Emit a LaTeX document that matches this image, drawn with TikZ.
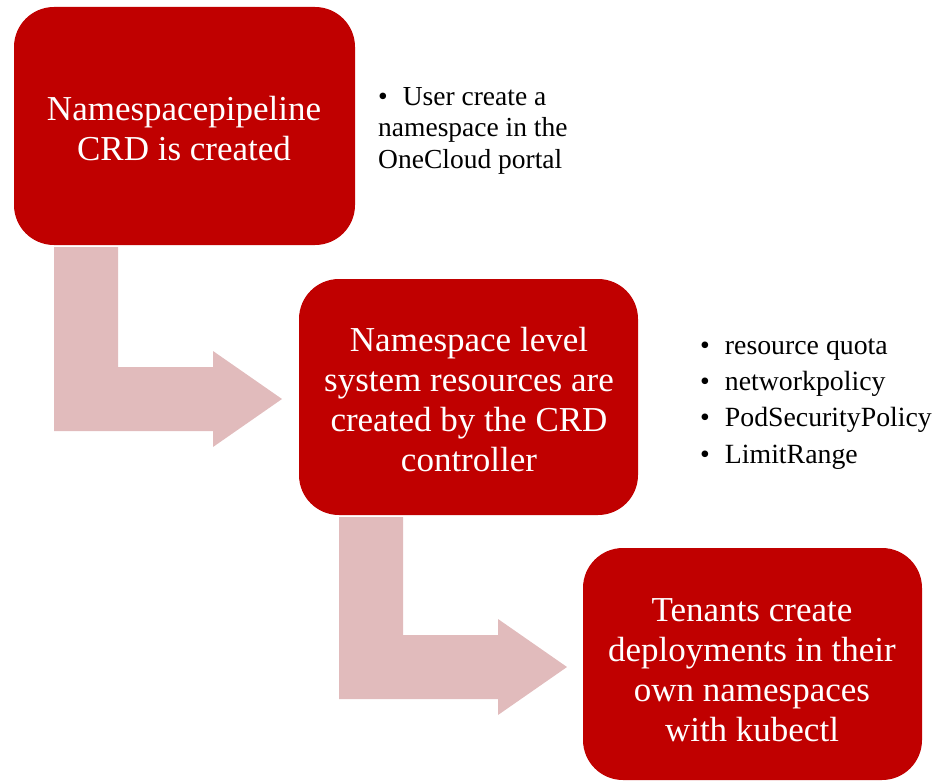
\documentclass[tikz,border=0pt]{standalone}
\usepackage{fontspec}
\setmainfont{Liberation Serif}
\definecolor{boxred}{RGB}{192,0,0}
\definecolor{arrowpink}{RGB}{225,187,188}
\begin{document}
\begin{tikzpicture}[x=1pt,y=-1pt,
  stepbox/.style={fill=boxred, rounded corners=40pt, inner sep=0pt},
  boxtext/.style={text=white, align=center, inner sep=0pt, font=\fontsize{35}{40}\selectfont},
  bendarrow/.style={fill=arrowpink},
  bullettext/.style={anchor=base west, inner sep=0pt, font=\fontsize{27.5}{31}\selectfont},
  bullettextb/.style={anchor=base west, inner sep=0pt, font=\fontsize{27.8}{36}\selectfont}]
\useasboundingbox (0,0) rectangle (934,781);
% boxes
\node[stepbox, minimum width=341pt, minimum height=238pt] (b1) at (184.5,126) {};
\node[stepbox, minimum width=339pt, minimum height=236pt] (b2) at (468.5,397) {};
\node[stepbox, minimum width=339pt, minimum height=232pt] (b3) at (752.5,664) {};
\node[boxtext] (t1) at (184,129) {Namespacepipeline\\CRD is created};
\node[boxtext] (t2) at (469,400) {Namespace level\\system resources are\\created by the CRD\\controller};
\node[boxtext] (t3) at (752,670) {Tenants create\\deployments in their\\own namespaces\\with kubectl};
% bent arrows
\fill[bendarrow] (54,247) -- (118,247) -- (118,367) -- (213,367) -- (213,351) -- (282,399) -- (213,447) -- (213,431) -- (54,431) -- cycle;
\fill[bendarrow] (339,517) -- (403,517) -- (403,635) -- (498,635) -- (498,619) -- (567,667) -- (498,715) -- (498,699) -- (339,699) -- cycle;
% first bullet list
\node[bullettext] (u1) at (378,106) {•\hspace{15pt}User create a};
\node[bullettext] (u2) at (378,137) {namespace in the};
\node[bullettext] (u3) at (378,168) {OneCloud portal};
% second bullet list
\node[bullettextb] (r1) at (700,354) {•\hspace{15pt}resource quota};
\node[bullettextb] (r2) at (700,390) {•\hspace{15pt}networkpolicy};
\node[bullettextb] (r3) at (700,426) {•\hspace{15pt}PodSecurityPolicy};
\node[bullettextb] (r4) at (700,463) {•\hspace{15pt}LimitRange};
\end{tikzpicture}
\end{document}
